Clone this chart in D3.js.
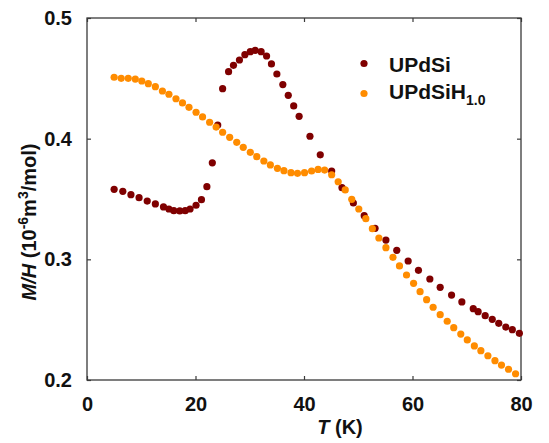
<!DOCTYPE html>
<html>
<head>
<meta charset="utf-8">
<script src="https://cdn.jsdelivr.net/npm/d3@7/dist/d3.min.js"></script>
<style>
  html, body { margin: 0; padding: 0; background: #fff; }
  svg text { font-family: "Liberation Sans", Arial, sans-serif; font-weight: bold; fill: #111; }
</style>
</head>
<body>
<svg id="chart" width="549" height="443"></svg>
<script>
// ---- data ----
const seriesNames = ["UPdSi", "UPdSiH"];
const seriesColors = ["#7f0000", "#ff8c00"];

const tUPdSi = [5.0, 6.6, 8.1, 9.6, 11.1, 12.6, 14.1, 15.1, 16.0, 17.1, 18.1, 19.0, 20.1, 21.1, 22.1,
  23.1, 24.1, 25.0, 26.1, 27.0, 28.1, 29.1, 30.1, 31.0, 32.1, 33.1, 34.0, 35.0, 36.1, 37.1, 38.1, 39.1,
  41.1, 43.0, 45.1, 47.0, 49.1, 51.1, 53.1, 55.1, 57.1, 59.2, 61.1, 63.2, 65.1, 67.2, 69.1, 71.2, 72.1,
  73.4, 74.7, 75.9, 77.2, 78.4, 79.7];
const mUPdSi = [0.358, 0.3564, 0.3536, 0.3511, 0.3483, 0.3459, 0.3434, 0.3417, 0.3403, 0.3401, 0.3403, 0.3417, 0.3448, 0.3494, 0.3602,
  0.380, 0.4113, 0.4414, 0.4555, 0.4608, 0.4652, 0.4696, 0.4721, 0.4732, 0.4721, 0.4685, 0.4619, 0.4536, 0.4448, 0.4359, 0.4271, 0.4185,
  0.402, 0.3866, 0.3732, 0.3594, 0.3467, 0.3362, 0.3257, 0.316, 0.3075, 0.2986, 0.2909, 0.2837, 0.2768, 0.2704, 0.2647, 0.2591, 0.2566,
  0.2533, 0.2503, 0.247, 0.2439, 0.2417, 0.2387];

const tUPdSiH = [5.0, 6.3, 7.6, 8.9, 10.1, 11.3, 12.6, 13.9, 15.1, 16.4, 17.6, 18.8, 20.1, 21.3, 22.6, 23.8,
  25.0, 26.3, 27.6, 28.8, 30.1, 31.3, 32.6, 33.8, 35.1, 36.3, 37.6, 38.8, 40.1, 41.4, 42.6, 43.8,
  45.1, 46.3, 47.6, 48.8, 50.1, 51.4, 52.6, 53.8, 55.1, 56.4, 57.6, 58.9, 60.2, 61.4, 62.6, 63.8,
  65.1, 66.4, 67.6, 68.9, 70.1, 71.4, 72.6, 73.9, 75.2, 76.4, 77.7, 79.0];
const mUPdSiH = [0.4509, 0.450, 0.450, 0.4494, 0.4478, 0.4456, 0.4431, 0.4395, 0.4368, 0.4331, 0.4296, 0.426, 0.4219, 0.418, 0.4136, 0.4096,
  0.4053, 0.4011, 0.397, 0.3928, 0.3887, 0.3851, 0.3815, 0.3782, 0.3754, 0.3735, 0.3718, 0.3713, 0.3718, 0.3732, 0.3745, 0.374,
  0.3701, 0.3643, 0.3575, 0.3497, 0.3417, 0.3337, 0.3254, 0.3177, 0.3097, 0.3017, 0.2945, 0.287, 0.2801, 0.2732, 0.2666, 0.2603,
  0.2541, 0.2487, 0.2434, 0.2381, 0.2332, 0.2282, 0.2243, 0.2201, 0.216, 0.2124, 0.2089, 0.2052];

const xTicks = [0, 20, 40, 60, 80];
const yTicks = [0.2, 0.3, 0.4, 0.5];

// ---- layout ----
const svg = d3.select("#chart");
const pL = 87, pR = 521, pT = 18, pB = 380;
const x = d3.scaleLinear().domain([0, 80]).range([pL, pR]);
const y = d3.scaleLinear().domain([0.2, 0.5]).range([pB, pT]);
const axisColor = "#3a3a3a";

// frame
svg.append("rect").attr("x", pL).attr("y", pT).attr("width", pR - pL).attr("height", pB - pT)
  .attr("fill", "none").attr("stroke", axisColor).attr("stroke-width", 1.3);

// axes (inward ticks)
const fmtY = d3.format(".1f");
const gx = svg.append("g").attr("transform", `translate(0,${pB})`)
  .call(d3.axisBottom(x).tickValues(xTicks).tickSizeInner(-4).tickSizeOuter(0).tickPadding(17));
const gxTop = svg.append("g").attr("transform", `translate(0,${pT})`)
  .call(d3.axisTop(x).tickValues(xTicks).tickSizeInner(-4).tickSizeOuter(0).tickFormat(""));
const gy = svg.append("g").attr("transform", `translate(${pL},0)`)
  .call(d3.axisLeft(y).tickValues(yTicks).tickSizeInner(-4).tickSizeOuter(0).tickPadding(15).tickFormat(fmtY));
const gyR = svg.append("g").attr("transform", `translate(${pR},0)`)
  .call(d3.axisRight(y).tickValues(yTicks).tickSizeInner(-4).tickSizeOuter(0).tickFormat(""));
[gx, gxTop, gy, gyR].forEach(g => {
  g.select(".domain").remove();
  g.selectAll(".tick line").attr("stroke", axisColor).attr("stroke-width", 1.2);
  g.selectAll("text").attr("font-size", 20).attr("font-family", "Liberation Sans, Arial, sans-serif")
    .attr("font-weight", "bold").attr("fill", "#111");
});

// data points
const d1 = tUPdSi.map((t, i) => ({ t, m: mUPdSi[i] }));
const d2 = tUPdSiH.map((t, i) => ({ t, m: mUPdSiH[i] }));
const r = 3.6;
svg.append("g").selectAll("circle").data(d1).join("circle")
  .attr("cx", d => x(d.t)).attr("cy", d => y(d.m)).attr("r", r).attr("fill", seriesColors[0]);
svg.append("g").selectAll("circle").data(d2).join("circle")
  .attr("cx", d => x(d.t)).attr("cy", d => y(d.m)).attr("r", r).attr("fill", seriesColors[1]);

// legend
const leg = svg.append("g");
leg.append("circle").attr("cx", 364).attr("cy", 63.5).attr("r", r).attr("fill", seriesColors[0]);
leg.append("text").attr("x", 389).attr("y", 71.5).attr("font-size", 21).text(seriesNames[0]);
leg.append("circle").attr("cx", 364).attr("cy", 93.5).attr("r", r).attr("fill", seriesColors[1]);
const t2 = leg.append("text").attr("x", 389).attr("y", 98.5).attr("font-size", 21);
t2.append("tspan").text(seriesNames[1]);
t2.append("tspan").attr("font-size", 14).attr("dy", 6).text("1.0");

// axis titles
const xt = svg.append("text").attr("x", 340).attr("y", 434).attr("text-anchor", "middle").attr("font-size", 20);
xt.append("tspan").attr("font-style", "italic").text("T");
xt.append("tspan").text(" (K)");

const yt = svg.append("text").attr("transform", "translate(36,222) rotate(-90)")
  .attr("text-anchor", "middle").attr("font-size", 20);
yt.append("tspan").attr("font-style", "italic").text("M/H");
yt.append("tspan").text(" (10");
yt.append("tspan").attr("font-size", 14).attr("dy", -8).text("-6");
yt.append("tspan").attr("dy", 8).text("m");
yt.append("tspan").attr("font-size", 14).attr("dy", -8).text("3");
yt.append("tspan").attr("dy", 8).text("/mol)");
</script>
</body>
</html>
